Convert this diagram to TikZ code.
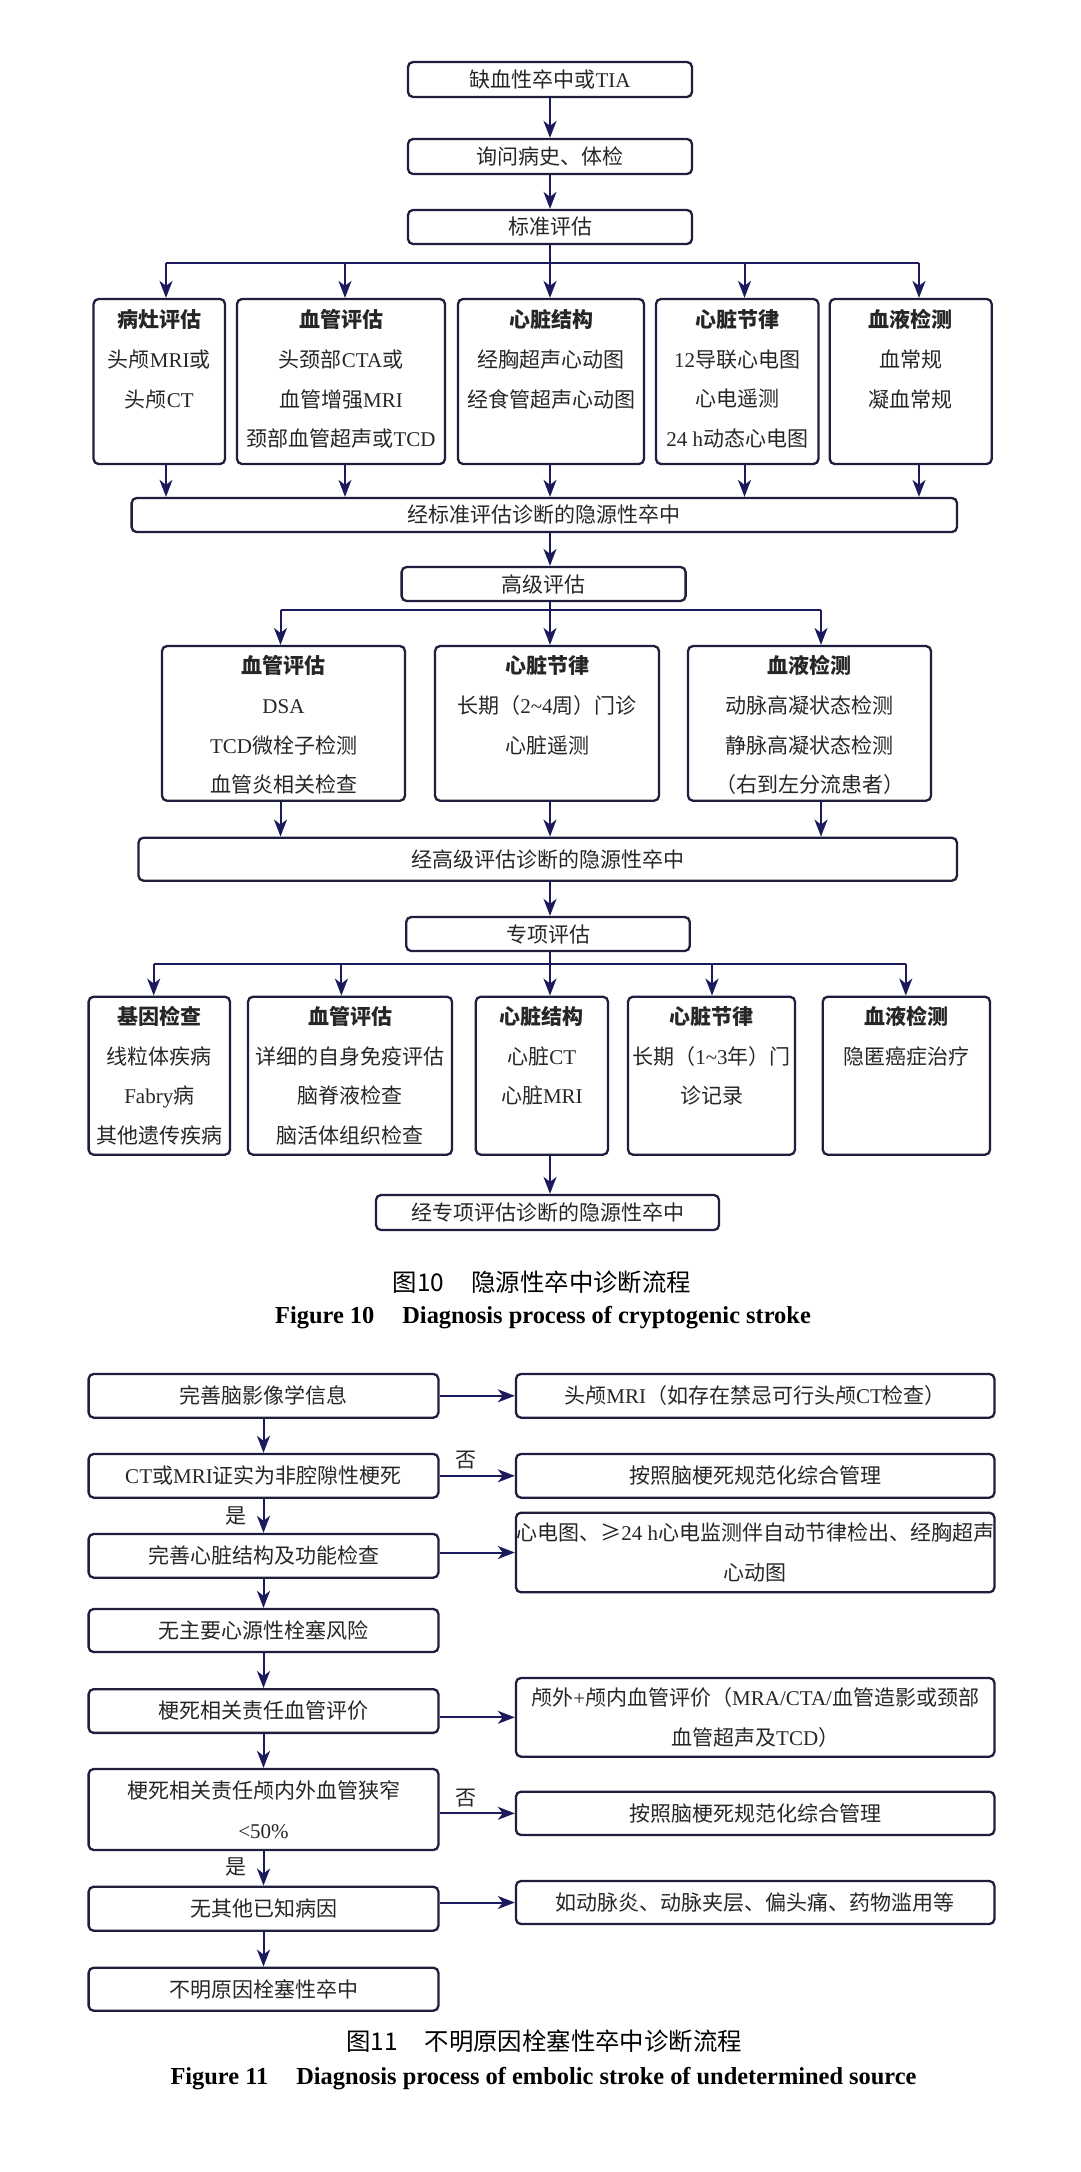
\documentclass[tikz,border=0pt]{standalone}
\usepackage{fontspec}
\setmainfont{Liberation Serif}
\newfontfamily\cjk{Noto Sans CJK SC}
\usetikzlibrary{arrows.meta, calc, positioning}
\definecolor{boxline}{RGB}{30,30,62}
\definecolor{arrline}{RGB}{26,26,92}
\definecolor{txt}{RGB}{38,38,38}
\newcommand{\lat}[1]{{\rmfamily #1}}
\newcommand{\hd}[1]{{\bfseries #1}}

\begin{document}
\begin{tikzpicture}[x=1pt, y=-1pt,
    box/.style={draw=boxline, line width=2.3pt, rounded corners=5pt, inner sep=0pt, align=center, text=txt, font=\cjk\fontsize{21}{40}\selectfont},
    cattxt/.style={inner sep=0pt, align=center, text=txt, font=\cjk\fontsize{21}{39.7}\selectfont},
    arr/.style={draw=arrline, line width=2pt, -{Stealth[length=17pt, width=13pt, inset=5pt]}},
    bar/.style={draw=arrline, line width=2pt},
    lbl/.style={inner sep=0pt, text=txt, font=\cjk\fontsize{21}{21}\selectfont},
    capcn/.style={inner sep=0pt, text=black, font=\cjk\fontsize{24.4}{26}\selectfont},
    capen/.style={inner sep=0pt, text=black, font=\rmfamily\bfseries\fontsize{24.4}{26}\selectfont}]
\useasboundingbox (0,0) rectangle (1080,2172);

\node[box, minimum width=284, minimum height=35] (a1) at (550,79.5) {缺血性卒中或\lat{TIA}};
\node[box, minimum width=284, minimum height=35] (a2) at (550,156.5) {询问病史、体检};
\node[box, minimum width=284, minimum height=34] (a3) at (550,227) {标准评估};
\draw[arr] (a1.south) -- (a2.north);
\draw[arr] (a2.south) -- (a3.north);

\coordinate (k1) at (166,263);
\coordinate (k2) at (345,263);
\coordinate (k3) at (550,263);
\coordinate (k4) at (744.5,263);
\coordinate (k5) at (919,263);
\draw[bar] (a3.south) -- (k3);
\draw[bar] (k1) -- (k5);

\node[box, minimum width=131.5, minimum height=165] (b1) at (159.3,381.5) {};
\node[box, minimum width=208, minimum height=165] (b2) at (341,381.5) {};
\node[box, minimum width=186, minimum height=165] (b3) at (551,381.5) {};
\node[box, minimum width=162.5, minimum height=165] (b4) at (737.2,381.5) {};
\node[box, minimum width=162, minimum height=165] (b5) at (910.7,381.5) {};
\node[cattxt, below=11.5pt of b1.north] (b1t) {\hd{病灶评估}\\头颅\lat{MRI}或\\头颅\lat{CT}};
\node[cattxt, below=11.5pt of b2.north] (b2t) {\hd{血管评估}\\头颈部\lat{CTA}或\\血管增强\lat{MRI}\\颈部血管超声或\lat{TCD}};
\node[cattxt, below=11.5pt of b3.north] (b3t) {\hd{心脏结构}\\经胸超声心动图\\经食管超声心动图};
\node[cattxt, below=11.5pt of b4.north] (b4t) {\hd{心脏节律}\\\lat{12}导联心电图\\心电遥测\\\lat{24 h}动态心电图};
\node[cattxt, below=11.5pt of b5.north] (b5t) {\hd{血液检测}\\血常规\\凝血常规};
\foreach \i in {1,...,5}
  \draw[arr] (k\i) -- (k\i |- b\i.north);

\node[box, minimum width=825.4, minimum height=34] (m1) at (544.3,515) {经标准评估诊断的隐源性卒中};
\foreach \i in {1,...,5}
  \draw[arr] (k\i |- b\i.south) -- (k\i |- m1.north);

\node[box, minimum width=284, minimum height=34] (g1) at (543.6,584) {高级评估};
\draw[arr] (k3 |- m1.south) -- (k3 |- g1.north);

\coordinate (l1) at (280.5,610);
\coordinate (l2) at (550,610);
\coordinate (l3) at (821,610);
\draw[bar] (l2 |- g1.south) -- (l2);
\draw[bar] (l1) -- (l3);

\node[box, minimum width=243, minimum height=154.7] (c1) at (283.5,723.4) {};
\node[box, minimum width=224, minimum height=154.7] (c2) at (547,723.4) {};
\node[box, minimum width=243, minimum height=154.7] (c3) at (809.5,723.4) {};
\node[cattxt, below=10.5pt of c1.north] (c1t) {\hd{血管评估}\\\lat{DSA}\\\lat{TCD}微栓子检测\\血管炎相关检查};
\node[cattxt, below=10.5pt of c2.north] (c2t) {\hd{心脏节律}\\长期（\lat{2\textasciitilde4}周）门诊\\心脏遥测};
\node[cattxt, below=10.5pt of c3.north] (c3t) {\hd{血液检测}\\动脉高凝状态检测\\静脉高凝状态检测\\（右到左分流患者）};
\foreach \i in {1,2,3}
  \draw[arr] (l\i) -- (l\i |- c\i.north);

\node[box, minimum width=818.5, minimum height=43] (m2) at (547.7,859.2) {经高级评估诊断的隐源性卒中};
\foreach \i in {1,2,3}
  \draw[arr] (l\i |- c\i.south) -- (l\i |- m2.north);

\node[box, minimum width=283.5, minimum height=34] (p1) at (548,934) {专项评估};
\draw[arr] (k3 |- m2.south) -- (k3 |- p1.north);

\coordinate (q1) at (153.7,964);
\coordinate (q2) at (341.4,964);
\coordinate (q3) at (550,964);
\coordinate (q4) at (712,964);
\coordinate (q5) at (905.8,964);
\draw[bar] (q3 |- p1.south) -- (q3);
\draw[bar] (q1) -- (q5);

\node[box, minimum width=141.4, minimum height=158] (d1) at (159.3,1075.7) {};
\node[box, minimum width=204, minimum height=158] (d2) at (350,1075.7) {};
\node[box, minimum width=132.2, minimum height=158] (d3) at (541.9,1075.7) {};
\node[box, minimum width=167, minimum height=158] (d4) at (711.5,1075.7) {};
\node[box, minimum width=167.3, minimum height=158] (d5) at (906.4,1075.7) {};
\node[cattxt, below=10.5pt of d1.north] (d1t) {\hd{基因检查}\\线粒体疾病\\\lat{Fabry}病\\其他遗传疾病};
\node[cattxt, below=10.5pt of d2.north] (d2t) {\hd{血管评估}\\详细的自身免疫评估\\脑脊液检查\\脑活体组织检查};
\node[cattxt, below=10.5pt of d3.north] (d3t) {\hd{心脏结构}\\心脏\lat{CT}\\心脏\lat{MRI}};
\node[cattxt, below=10.5pt of d4.north] (d4t) {\hd{心脏节律}\\长期（\lat{1\textasciitilde3}年）门\\诊记录};
\node[cattxt, below=10.5pt of d5.north] (d5t) {\hd{血液检测}\\隐匿癌症治疗};
\foreach \i in {1,...,5}
  \draw[arr] (q\i) -- (q\i |- d\i.north);

\node[box, minimum width=343, minimum height=35] (f1) at (547.5,1212.5) {经专项评估诊断的隐源性卒中};
\draw[arr] (q3 |- d3.south) -- (q3 |- f1.north);

\node[capcn] (cap1) at (542,1282) {图10\hspace{27pt}隐源性卒中诊断流程};
\node[capen] (cap2) at (543,1318) {Figure 10\hspace{28pt}Diagnosis process of cryptogenic stroke};

\node[box, minimum width=349.8, minimum height=43.7] (L1) at (263.5,1395.8) {完善脑影像学信息};
\node[box, minimum width=478.5, minimum height=43.7] (R1) at (755.2,1395.8) {头颅\lat{MRI}（如存在禁忌可行头颅\lat{CT}检查）};
\node[box, minimum width=349.8, minimum height=43.7] (L2) at (263.5,1475.8) {\lat{CT}或\lat{MRI}证实为非腔隙性梗死};
\node[box, minimum width=478.5, minimum height=43.7] (R2) at (755.2,1475.8) {按照脑梗死规范化综合管理};
\node[box, minimum width=349.8, minimum height=43.7] (L3) at (263.5,1555.8) {完善心脏结构及功能检查};
\node[box, minimum width=478.5, minimum height=79.6] (R3) at (755.2,1552.5) {心电图、≥\lat{24 h}心电监测伴自动节律检出、经胸超声\\心动图};
\node[box, minimum width=349.8, minimum height=43] (L4) at (263.5,1630.5) {无主要心源性栓塞风险};
\node[box, minimum width=349.8, minimum height=43.7] (L5) at (263.5,1711) {梗死相关责任血管评价};
\node[box, minimum width=478.5, minimum height=78.7] (R5) at (755.2,1717.3) {颅外\lat{+}颅内血管评价（\lat{MRA/CTA/}血管造影或颈部\\血管超声及\lat{TCD}）};
\node[box, minimum width=349.8, minimum height=81] (L6) at (263.5,1809.5) {梗死相关责任颅内外血管狭窄\\\lat{<50\%}};
\node[box, minimum width=478.5, minimum height=43.3] (R6) at (755.2,1813.3) {按照脑梗死规范化综合管理};
\node[box, minimum width=349.8, minimum height=44] (L7) at (263.5,1908.7) {无其他已知病因};
\node[box, minimum width=478.5, minimum height=43] (R7) at (755.2,1902.5) {如动脉炎、动脉夹层、偏头痛、药物滥用等};
\node[box, minimum width=349.8, minimum height=43] (L8) at (263.5,1989.2) {不明原因栓塞性卒中};

\draw[arr] (L1.south) -- (L2.north);
\draw[arr] (L2.south) -- (L3.north);
\draw[arr] (L3.south) -- (L4.north);
\draw[arr] (L4.south) -- (L5.north);
\draw[arr] (L5.south) -- (L6.north);
\draw[arr] (L6.south) -- (L7.north);
\draw[arr] (L7.south) -- (L8.north);
\draw[arr] (L1.east) -- (R1.west);
\draw[arr] (L2.east) -- (R2.west);
\draw[arr] (R3.west -| L3.east) -- (R3.west);
\draw[arr] (R5.west -| L5.east) -- (R5.west);
\draw[arr] (R6.west -| L6.east) -- (R6.west);
\draw[arr] (R7.west -| L7.east) -- (R7.west);

\node[lbl] (no1) at (466,1460) {否};
\node[lbl] (no2) at (466,1798) {否};
\node[lbl] (yes1) at (235.5,1516) {是};
\node[lbl] (yes2) at (235.5,1867) {是};

\node[capcn] (cap3) at (544,2041) {图11\hspace{27pt}不明原因栓塞性卒中诊断流程};
\node[capen] (cap4) at (543.5,2079) {Figure 11\hspace{28pt}Diagnosis process of embolic stroke of undetermined source};
\end{tikzpicture}
\end{document}
